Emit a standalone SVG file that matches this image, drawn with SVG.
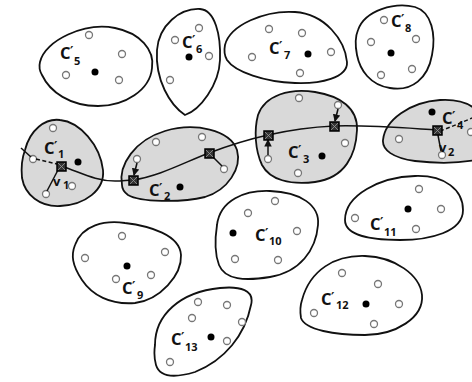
<svg xmlns="http://www.w3.org/2000/svg" width="472" height="382" viewBox="0 0 472 382">
<style>
.b{fill:#fff;stroke:#111;stroke-width:1.8}
.g{fill:#d9d9d9;stroke:#111;stroke-width:1.8}
.o{fill:#fff;stroke:#777;stroke-width:1.3}
.k{fill:#000}
.c{font-family:"Open Sans","Liberation Sans",sans-serif;font-weight:bold;font-size:16.5px;fill:#111}
.p{font-family:"DejaVu Sans",sans-serif;font-weight:bold;font-size:13px;fill:#111}
.s{font-family:"Open Sans","Liberation Sans",sans-serif;font-weight:bold;font-size:11px;fill:#111}
.v{font-family:"Open Sans","Liberation Sans",sans-serif;font-weight:bold;font-size:13px;fill:#111}
.ln{fill:none;stroke:#111;stroke-width:1.5}
.ds{fill:none;stroke:#111;stroke-width:1.5;stroke-dasharray:4 2.5}
.sq{fill:#333;stroke:#000;stroke-width:1.5}
.x{stroke:#999;stroke-width:0.8}
</style>
<defs>
<marker id="ah" viewBox="0 0 8 8" refX="7" refY="4" markerWidth="5" markerHeight="5" orient="auto"><path d="M0,0 L8,4 L0,8 Z" fill="#111"/></marker>
</defs>

<g id="C5">
<path class="b" d="M 40,62 C 45,40 85,22 115,28 C 140,33 155,50 152,68 C 150,90 125,106 98,106 C 70,106 50,92 42,75 C 39,70 39,66 40,62 Z"/>
<circle class="k" cx="95" cy="72" r="3.5"/>
<circle class="o" cx="89" cy="35" r="3.5"/><circle class="o" cx="122" cy="54" r="3.5"/><circle class="o" cx="66" cy="75" r="3.5"/><circle class="o" cx="119" cy="80" r="3.5"/>
<text class="c" x="60" y="59">C</text><text class="p" x="70" y="55">′</text><text class="s" x="74" y="65">5</text>
</g>

<g id="C6">
<path class="b" d="M 185,115 C 170,105 155,80 157,50 C 159,25 180,8 200,9 C 215,10 221,35 220,60 C 219,85 200,110 185,115 Z"/>
<circle class="k" cx="189" cy="57" r="3.5"/>
<circle class="o" cx="199" cy="28" r="3.5"/><circle class="o" cx="175" cy="40" r="3.5"/><circle class="o" cx="209" cy="56" r="3.5"/><circle class="o" cx="170" cy="80" r="3.5"/>
<text class="c" x="182" y="48">C</text><text class="p" x="192" y="44">′</text><text class="s" x="196" y="53">6</text>
</g>

<g id="C7">
<path class="b" d="M 225,45 C 230,25 265,10 295,12 C 325,14 345,40 347,62 C 348,78 320,84 295,83 C 265,82 235,72 227,60 C 224,55 224,50 225,45 Z"/>
<circle class="k" cx="308" cy="54" r="3.5"/>
<circle class="o" cx="269" cy="29" r="3.5"/><circle class="o" cx="302" cy="33" r="3.5"/><circle class="o" cx="252" cy="57" r="3.5"/><circle class="o" cx="331" cy="52" r="3.5"/><circle class="o" cx="300" cy="73" r="3.5"/>
<text class="c" x="269" y="54">C</text><text class="p" x="279" y="50">′</text><text class="s" x="284" y="59">7</text>
</g>

<g id="C8">
<path class="b" d="M 358,30 C 365,10 395,2 415,7 C 432,12 436,35 432,55 C 428,78 412,92 390,88 C 370,85 360,70 357,55 C 355,45 355,37 358,30 Z"/>
<circle class="k" cx="391" cy="53" r="3.5"/>
<circle class="o" cx="384" cy="20" r="3.5"/><circle class="o" cx="416" cy="39" r="3.5"/><circle class="o" cx="371" cy="42" r="3.5"/><circle class="o" cx="412" cy="69" r="3.5"/><circle class="o" cx="381" cy="75" r="3.5"/>
<text class="c" x="391" y="27">C</text><text class="p" x="401" y="23">′</text><text class="s" x="405" y="32">8</text>
</g>

<g id="C1">
<path class="g" d="M 25,150 C 30,130 45,118 60,120 C 80,122 100,145 103,170 C 105,190 85,205 60,206 C 40,207 25,195 22,178 C 21,168 22,158 25,150 Z"/>
<circle class="k" cx="78" cy="162" r="3.5"/>
<circle class="o" cx="53" cy="128" r="3.5"/><circle class="o" cx="33" cy="159" r="3.5"/><circle class="o" cx="46" cy="194" r="3.5"/><circle class="o" cx="72" cy="186" r="3.5"/>
<text class="c" x="44" y="154">C</text><text class="p" x="54" y="150">′</text><text class="s" x="58" y="158">1</text>
</g>

<g id="C2">
<path class="g" d="M 122,185 C 118,165 135,140 165,131 C 195,122 230,130 237,150 C 242,168 228,190 205,197 C 180,203 140,202 128,195 C 124,192 122,189 122,185 Z"/>
<circle class="k" cx="180" cy="187" r="3.5"/>
<circle class="o" cx="156" cy="142" r="3.5"/><circle class="o" cx="202" cy="137" r="3.5"/><circle class="o" cx="137" cy="159" r="3.5"/><circle class="o" cx="224" cy="169" r="3.5"/>
<text class="c" x="149" y="196">C</text><text class="p" x="159" y="192">′</text><text class="s" x="164" y="200">2</text>
</g>

<g id="C3">
<path class="g" d="M 258,115 C 265,95 290,88 315,92 C 340,96 358,108 357,130 C 356,155 345,178 315,182 C 290,185 270,180 262,165 C 255,150 254,130 258,115 Z"/>
<circle class="k" cx="322" cy="156" r="3.5"/>
<circle class="o" cx="299" cy="98" r="3.5"/><circle class="o" cx="338" cy="105" r="3.5"/><circle class="o" cx="345" cy="143" r="3.5"/><circle class="o" cx="268" cy="159" r="3.5"/><circle class="o" cx="298" cy="173" r="3.5"/>
<text class="c" x="288" y="158">C</text><text class="p" x="298" y="154">′</text><text class="s" x="303" y="163">3</text>
</g>

<g id="C4">
<path class="g" d="M 383,140 C 385,120 410,102 440,100 C 458,99 470,104 476,110 L 476,160 C 460,163 440,164 415,161 C 393,158 382,150 383,140 Z"/>
<circle class="k" cx="432" cy="112" r="3.5"/>
<circle class="o" cx="399" cy="139" r="3.5"/><circle class="o" cx="471" cy="132" r="3.5"/><circle class="o" cx="442" cy="155" r="3.5"/>
<text class="c" x="442" y="124">C</text><text class="p" x="452" y="120">′</text><text class="s" x="457" y="129">4</text>
</g>

<g id="C9">
<path class="b" d="M 75,245 C 82,225 105,220 125,223 C 150,226 180,235 181,255 C 182,275 160,300 135,303 C 110,305 92,295 82,280 C 72,265 71,255 75,245 Z"/>
<circle class="k" cx="127" cy="266" r="3.5"/>
<circle class="o" cx="122" cy="236" r="3.5"/><circle class="o" cx="85" cy="258" r="3.5"/><circle class="o" cx="165" cy="252" r="3.5"/><circle class="o" cx="151" cy="275" r="3.5"/><circle class="o" cx="116" cy="279" r="3.5"/>
<text class="c" x="122" y="294">C</text><text class="p" x="132" y="290">′</text><text class="s" x="137" y="299">9</text>
</g>

<g id="C10">
<path class="b" d="M 217,225 C 220,200 245,190 270,191 C 300,192 320,205 318,225 C 316,250 300,272 270,277 C 245,281 225,280 219,265 C 214,252 215,238 217,225 Z"/>
<circle class="k" cx="233" cy="233" r="3.5"/>
<circle class="o" cx="248" cy="213" r="3.5"/><circle class="o" cx="275" cy="201" r="3.5"/><circle class="o" cx="297" cy="231" r="3.5"/><circle class="o" cx="235" cy="259" r="3.5"/><circle class="o" cx="278" cy="260" r="3.5"/>
<text class="c" x="255" y="241">C</text><text class="p" x="265" y="237">′</text><text class="s" x="269" y="245">10</text>
</g>

<g id="C11">
<path class="b" d="M 345,220 C 345,195 380,177 415,176 C 445,175 463,190 463,210 C 463,232 430,240 400,240 C 370,240 345,235 345,220 Z"/>
<circle class="k" cx="408" cy="209" r="3.5"/>
<circle class="o" cx="419" cy="189" r="3.5"/><circle class="o" cx="441" cy="209" r="3.5"/><circle class="o" cx="355" cy="218" r="3.5"/><circle class="o" cx="416" cy="229" r="3.5"/>
<text class="c" x="370" y="230">C</text><text class="p" x="380" y="226">′</text><text class="s" x="384" y="236">11</text>
</g>

<g id="C12">
<path class="b" d="M 302,300 C 310,270 335,255 365,256 C 395,257 420,275 422,295 C 424,318 395,335 365,335 C 335,335 305,330 301,318 C 300,312 300,306 302,300 Z"/>
<circle class="k" cx="366" cy="304" r="3.5"/>
<circle class="o" cx="342" cy="273" r="3.5"/><circle class="o" cx="378" cy="284" r="3.5"/><circle class="o" cx="399" cy="304" r="3.5"/><circle class="o" cx="314" cy="313" r="3.5"/><circle class="o" cx="374" cy="324" r="3.5"/>
<text class="c" x="321" y="305">C</text><text class="p" x="331" y="301">′</text><text class="s" x="336" y="309">12</text>
</g>

<g id="C13">
<path class="b" d="M 155,345 C 155,315 180,292 220,288 C 240,286 255,290 251,305 C 245,335 225,360 195,372 C 175,378 160,378 156,365 C 154,358 154,352 155,345 Z"/>
<circle class="k" cx="211" cy="337" r="3.5"/>
<circle class="o" cx="198" cy="302" r="3.5"/><circle class="o" cx="227" cy="305" r="3.5"/><circle class="o" cx="192" cy="318" r="3.5"/><circle class="o" cx="242" cy="322" r="3.5"/><circle class="o" cx="227" cy="341" r="3.5"/><circle class="o" cx="170" cy="362" r="3.5"/>
<text class="c" x="171" y="345">C</text><text class="p" x="181" y="341">′</text><text class="s" x="185" y="351">13</text>
</g>

<g id="connectors">
<path class="ln" d="M 61,166 C 80,172 95,181 115,181 C 122,181 128,180 133,180 C 160,176 185,162 209,153 C 230,145 250,139 268,135 C 290,130 312,127 334,126 C 370,125 405,128 437,130"/>
<line class="ln" x1="21" y1="148" x2="31" y2="157"/>
<line class="ds" x1="36" y1="159" x2="57" y2="164"/>
<line class="ln" x1="47" y1="191" x2="58" y2="170"/>
<line class="ln" x1="137" y1="163" x2="134" y2="175" marker-end="url(#ah)"/>
<line class="ln" x1="209" y1="153" x2="222" y2="166"/>
<line class="ln" x1="268" y1="155" x2="268" y2="140" marker-end="url(#ah)"/>
<line class="ln" x1="338" y1="109" x2="335" y2="121" marker-end="url(#ah)"/>
<line class="ln" x1="437" y1="130" x2="441" y2="151"/>
<path class="ds" d="M 440,131 Q 456,125 472,118"/>
<g id="waypoints">
<rect class="sq" x="57" y="162" width="9" height="9"/><path class="x" d="M58,163 L65,170 M65,163 L58,170"/>
<rect class="sq" x="129" y="176" width="9" height="9"/><path class="x" d="M130,177 L137,184 M137,177 L130,184"/>
<rect class="sq" x="205" y="149" width="9" height="9"/><path class="x" d="M206,150 L213,157 M213,150 L206,157"/>
<rect class="sq" x="264" y="131" width="9" height="9"/><path class="x" d="M265,132 L272,139 M272,132 L265,139"/>
<rect class="sq" x="330" y="122" width="9" height="9"/><path class="x" d="M331,123 L338,130 M338,123 L331,130"/>
<rect class="sq" x="433" y="126" width="9" height="9"/><path class="x" d="M434,127 L441,134 M441,127 L434,134"/>
</g>
<text class="v" x="53" y="186">v</text><text class="s" x="63" y="189">1</text>
<text class="v" x="439" y="152">v</text><text class="s" x="448" y="156">2</text>
</g>
</svg>
